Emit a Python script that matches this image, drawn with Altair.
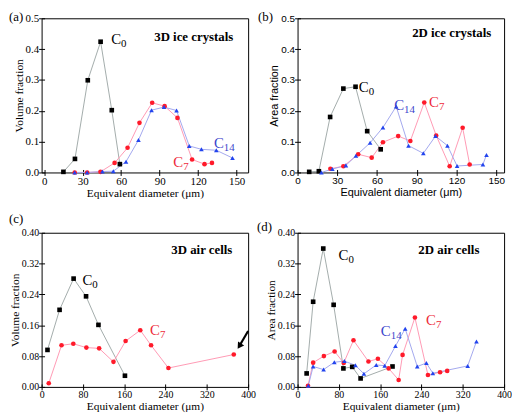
import altair as alt
import pandas as pd

# ---------------- data ----------------
# (a) 3D ice crystals
A_C0_X = [15, 24, 34, 44, 52.7, 59]
A_C0_Y = [0.002, 0.044, 0.299, 0.424, 0.202, 0.027]
A_C7_X = [23.8, 33.5, 43.9, 54.9, 65, 74.3, 84.2, 93.9, 103.9, 115.3, 125, 130.8]
A_C7_Y = [0, 0, 0.002, 0.031, 0.080, 0.161, 0.226, 0.215, 0.177, 0.042, 0.027, 0.031]
A_C14_X = [23.8, 33.5, 45.4, 53.9, 63.8, 73.5, 83.7, 93.4, 103.2, 113.1, 122.6, 134.2, 146.8]
A_C14_Y = [0, 0, 0.003, 0.004, 0.035, 0.105, 0.202, 0.212, 0.201, 0.086, 0.075, 0.072, 0.047]
A_LAB_X = [52.2, 100.7, 132.3]
A_LAB_Y = [0.417, 0.019, 0.078]

# (b) 2D ice crystals
B_C0_X = [8.8, 16.1, 24.6, 34.6, 43.8, 52.6, 62.8]
B_C0_Y = [0.002, 0.004, 0.180, 0.272, 0.278, 0.134, 0.075]
B_C7_X = [24.8, 34.6, 45.8, 56.0, 64.5, 76.0, 85.2, 95.7, 104.7, 114.9, 124.7, 130.0]
B_C7_Y = [0.012, 0.020, 0.059, 0.048, 0.098, 0.118, 0.102, 0.227, 0.120, 0.020, 0.145, 0.026]
B_C14_X = [18.0, 26.3, 36.5, 44.1, 54.8, 64.5, 74.5, 83.8, 95.0, 104.2, 113.2, 120.5, 140.0, 142.7]
B_C14_Y = [0.0, 0.011, 0.023, 0.054, 0.096, 0.146, 0.214, 0.087, 0.062, 0.118, 0.087, 0.021, 0.026, 0.057]
B_LAB_X = [46.3, 99.3, 73.0]
B_LAB_Y = [0.260, 0.212, 0.204]

# (c) 3D air cells
C_C0_X = [11.4, 34.8, 62.0, 86.1, 110.1, 161.4]
C_C0_Y = [0.096, 0.200, 0.281, 0.235, 0.161, 0.029]
C_C7_X = [13.9, 38.6, 61.4, 86.7, 111.4, 139.2, 162.7, 191.1, 212.0, 245.6, 372.2]
C_C7_Y = [0.0095, 0.108, 0.112, 0.102, 0.100, 0.065, 0.119, 0.147, 0.108, 0.049, 0.084]
C_LAB_X = [79.1, 210.0]
C_LAB_Y = [0.264, 0.134]
ARROW_X = [400, 383]
ARROW_Y = [0.145, 0.106]

# (d) 2D air cells
D_C0_X = [17.6, 30.2, 49.8, 69.9, 88.8, 105.9, 122.1, 183.9]
D_C0_Y = [0.035, 0.221, 0.359, 0.213, 0.048, 0.052, 0.022, 0.053]
D_C7_X = [20.2, 30.2, 51.0, 71.8, 89.4, 108.3, 137.3, 155.6, 176.4, 195.8, 203.4, 227.3, 252.5, 276.0, 289.8]
D_C7_Y = [0.003, 0.063, 0.080, 0.092, 0.062, 0.121, 0.066, 0.073, 0.048, 0.018, 0.083, 0.180, 0.031, 0.038, 0.0415]
D_C14_X = [20.8, 30.2, 50.4, 71.2, 90.7, 112.1, 128.5, 152.4, 168.8, 189.6, 208.5, 231.8, 249.5, 262.0, 329.5, 346.5]
D_C14_Y = [0.003, 0.053, 0.045, 0.064, 0.067, 0.056, 0.034, 0.057, 0.055, 0.106, 0.151, 0.053, 0.062, 0.0355, 0.0545, 0.118]
D_LAB_X = [79.4, 248.8, 161.3]
D_LAB_Y = [0.329, 0.160, 0.132]

ICE_TICKS = [0, 30, 60, 90, 120, 150]
AIR_TICKS = [0, 80, 160, 240, 320, 400]
ICE_YTICKS = [0.0, 0.1, 0.2, 0.3, 0.4, 0.5]
AIR_YTICKS = [0.0, 0.08, 0.16, 0.24, 0.32, 0.40]

# ---------------- style ----------------
SERIF = "Liberation Serif"
SANS = "Liberation Sans"
W, H = 209, 156

STYLE = {
    "C0": dict(line="#a3acab", marker="#000000", label="#000000", shape="square"),
    "C7": dict(line="#ff99b4", marker="#ff1a2a", label="#ee2a3a", shape="circle"),
    "C14": dict(line="#a3a8ee", marker="#2244ee", label="#3a44cc", shape="triangle-up"),
}


def make_axis(values, fmt, title, font, lfs, tfs):
    return alt.Axis(
        values=values, format=fmt, title=title,
        labelFont=font, labelFontSize=lfs, labelColor="black",
        titleFont=font, titleFontSize=tfs, titleFontWeight="normal", titleColor="black",
        tickSize=6, offset=-3, domain=False, grid=False, tickColor="black", tickWidth=1,
        labelPadding=0, titlePadding=1, labelFlush=False, labelOverlap=False,
    )


def panel(series, labels, xdom, xticks, ydom, yticks, yfmt, ytitle, font, lfs, tfs,
          letter, letter_pos, title, title_pos, arrow=None):
    xenc = alt.X("x:Q", scale=alt.Scale(domain=xdom, nice=False, zero=False),
                 axis=make_axis(xticks, "d", "Equivalent diameter (μm)", font, lfs, tfs))
    yenc = alt.Y("y:Q", scale=alt.Scale(domain=ydom, nice=False, zero=False),
                 axis=make_axis(yticks, yfmt, ytitle, font, lfs, tfs))
    lines, pts = [], []
    for name, xs, ys in series:
        st = STYLE[name]
        df = pd.DataFrame({"x": xs, "y": ys})
        lines.append(alt.Chart(df).mark_line(color=st["line"], strokeWidth=1).encode(x=xenc, y=yenc))
        pts.append(alt.Chart(df).mark_point(shape=st["shape"], filled=True, color=st["marker"],
                                            size=22, opacity=1, strokeWidth=0).encode(x=xenc, y=yenc))
    names, lx, ly = labels
    ldf = pd.DataFrame({
        "x": lx, "y": ly,
        "main": ["C"] * len(names),
        "sub": [n[1:] for n in names],
        "color": [STYLE[n]["label"] for n in names],
    })
    lab_main = alt.Chart(ldf).mark_text(font=SERIF, fontSize=15, align="left", baseline="alphabetic").encode(
        x=xenc, y=yenc, text="main:N", color=alt.Color("color:N", scale=None))
    lab_sub = alt.Chart(ldf).mark_text(font=SERIF, fontSize=11, align="left", baseline="alphabetic",
                                       dx=10, dy=3).encode(
        x=xenc, y=yenc, text="sub:N", color=alt.Color("color:N", scale=None))
    tdf = pd.DataFrame({"t": [title]})
    ttl = alt.Chart(tdf).mark_text(font=SERIF, fontSize=13, fontWeight="bold", align="right",
                                   baseline="alphabetic", color="black").encode(
        x=alt.value(W - title_pos[0]), y=alt.value(title_pos[1]), text="t:N")
    ldf2 = pd.DataFrame({"t": [letter]})
    let = alt.Chart(ldf2).mark_text(font=SERIF, fontSize=13, align="left", baseline="top",
                                    color="black").encode(
        x=alt.value(letter_pos[0]), y=alt.value(letter_pos[1]), text="t:N")
    layers = lines + pts + [lab_main, lab_sub, ttl, let]
    if arrow is not None:
        adf = pd.DataFrame({"x": arrow[0], "y": arrow[1]})
        layers.append(alt.Chart(adf).mark_line(color="black", strokeWidth=2.2).encode(x=xenc, y=yenc))
        hdf = adf.tail(1)
        layers.append(alt.Chart(hdf).mark_point(shape="triangle-up", filled=True, color="black",
                                                size=55, angle=213, opacity=1, strokeWidth=0).encode(x=xenc, y=yenc))
    return alt.layer(*layers).properties(width=W, height=H)


pa = panel([("C0", A_C0_X, A_C0_Y), ("C7", A_C7_X, A_C7_Y), ("C14", A_C14_X, A_C14_Y)],
           (["C0", "C7", "C14"], A_LAB_X, A_LAB_Y),
           [-2, 159], ICE_TICKS, [0, 0.5], ICE_YTICKS, ".1f", "Volume fraction", SERIF, 11, 11.5,
           "(a)", (-33, -7), "3D ice crystals", (15, 23))
pb = panel([("C0", B_C0_X, B_C0_Y), ("C7", B_C7_X, B_C7_Y), ("C14", B_C14_X, B_C14_Y)],
           (["C0", "C7", "C14"], B_LAB_X, B_LAB_Y),
           [0, 156], ICE_TICKS, [0, 0.5], ICE_YTICKS, ".1f", "Area fraction", SANS, 10, 11,
           "(b)", (-40, -7), "2D ice crystals", (13, 19))
pc = panel([("C0", C_C0_X, C_C0_Y), ("C7", C_C7_X, C_C7_Y)],
           (["C0", "C7"], C_LAB_X, C_LAB_Y),
           [0, 400], AIR_TICKS, [0, 0.4], AIR_YTICKS, ".2f", "Volume fraction", SERIF, 10, 11.5,
           "(c)", (-33, -20), "3D air cells", (16, 22), arrow=(ARROW_X, ARROW_Y))
pd_ = panel([("C0", D_C0_X, D_C0_Y), ("C7", D_C7_X, D_C7_Y), ("C14", D_C14_X, D_C14_Y)],
            (["C0", "C7", "C14"], D_LAB_X, D_LAB_Y),
            [0, 400], AIR_TICKS, [0, 0.4], AIR_YTICKS, ".2f", "Area fraction", SERIF, 10, 11.5,
            "(d)", (-41, -12), "2D air cells", (25, 22))

chart = alt.concat(pa, pb, pc, pd_, columns=2, spacing={"row": 61, "column": 50},
                   bounds="flush").properties(padding=0).configure_view(
    stroke="black", strokeWidth=1)

chart.save("out.html", embed_options={"renderer": "svg", "actions": False})
